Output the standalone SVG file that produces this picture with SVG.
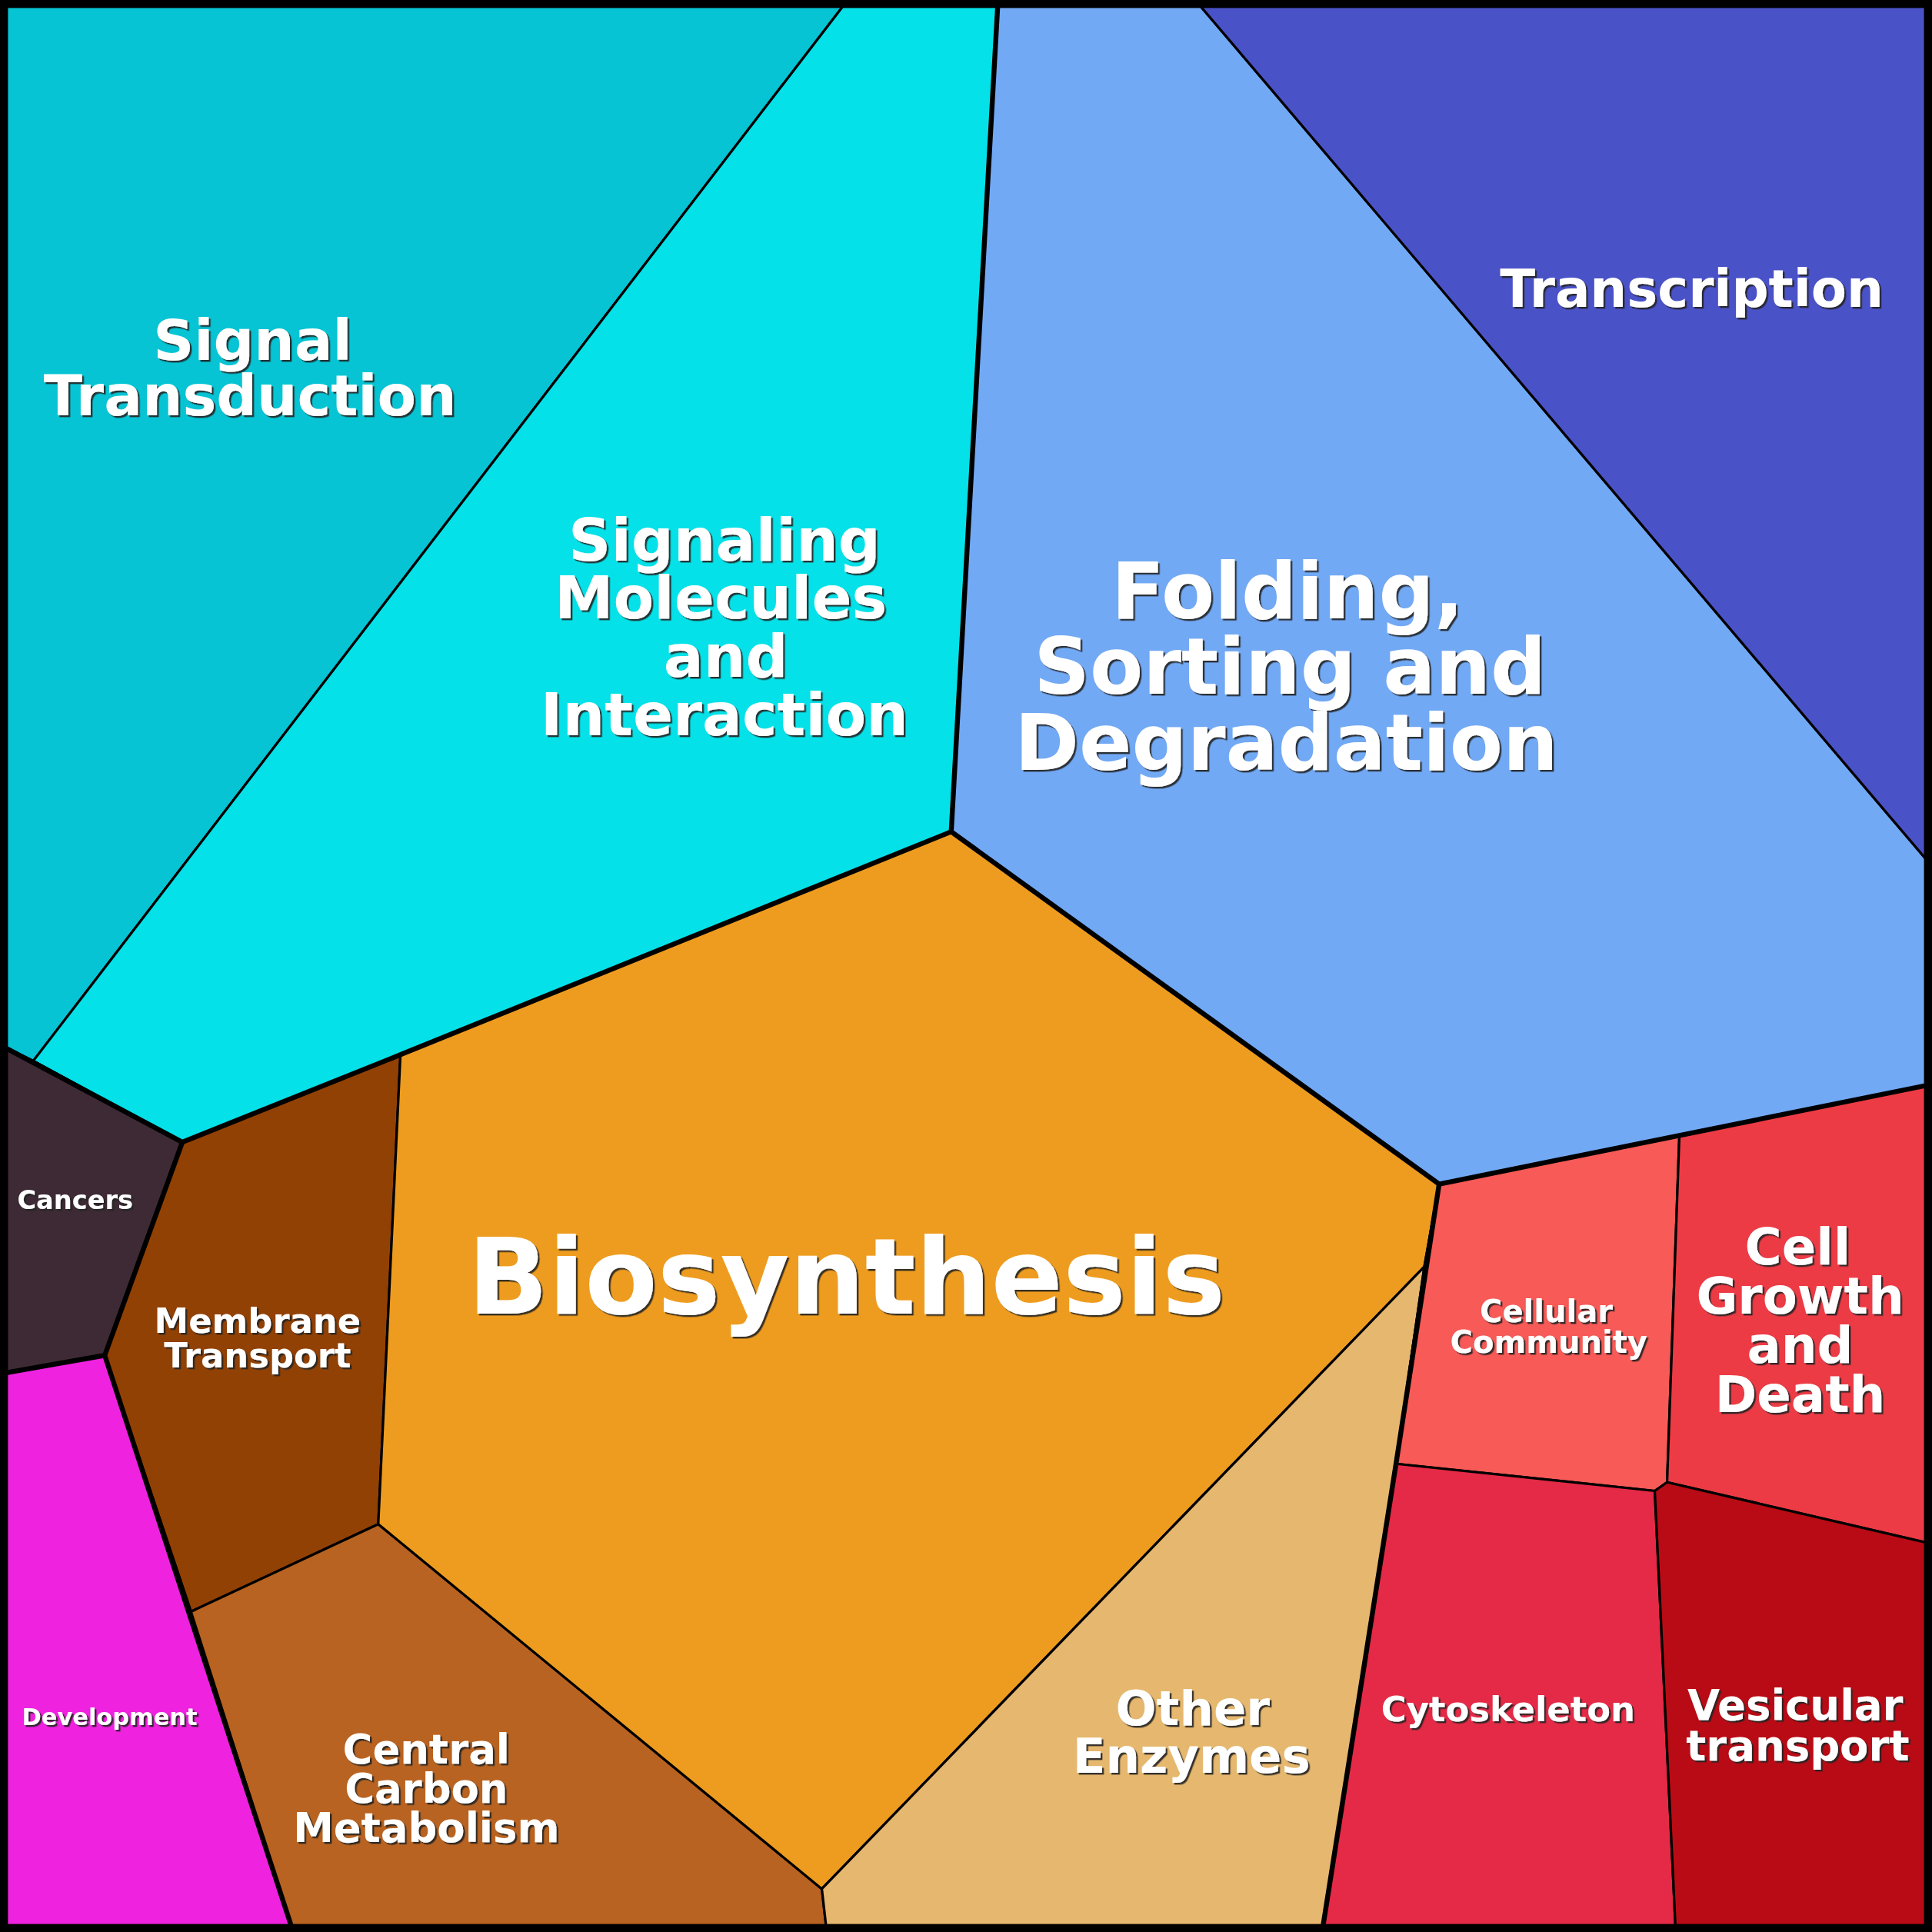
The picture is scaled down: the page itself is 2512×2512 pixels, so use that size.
<svg xmlns="http://www.w3.org/2000/svg" width="2512" height="2512" viewBox="0 0 2512 2512">
<style>
.c{stroke:#000;stroke-width:2;stroke-linejoin:round}
.t{fill:none;stroke:#000;stroke-width:4;stroke-linejoin:round}
text{font-family:"DejaVu Sans",sans-serif;font-weight:bold;text-anchor:middle;fill:#fff;filter:url(#sh)}
</style>
<defs>
<filter id="sh" x="-10%" y="-20%" width="120%" height="140%"><feDropShadow dx="1.5" dy="1.5" stdDeviation="0.4" flood-color="#222" flood-opacity="0.9"/></filter>
</defs>
<g transform="scale(1.60204)">
<g id="signal-transduction"><polygon class="c" fill="#06C4D4" points="0,0 688,0 27,861 0,848"/></g>
<g id="signaling-molecules"><polygon class="c" fill="#05E1E8" points="688,0 810,0 772,675 325,856 148,927 27,861"/></g>
<g id="folding"><polygon class="c" fill="#72A9F4" points="810,0 970,0 1568,703 1568,880 1363,921 1168,961 772,675"/></g>
<g id="transcription"><polygon class="c" fill="#4A52C8" points="970,0 1568,0 1568,703"/></g>
<g id="cancers"><polygon class="c" fill="#3D2A34" points="0,848 27,861 148,927 85,1100 0,1115"/></g>
<g id="membrane"><polygon class="c" fill="#924104" points="148,927 325,856 307,1237 155,1308 85,1100"/></g>
<g id="development"><polygon class="c" fill="#EF22DF" points="0,1115 85,1100 155,1308 238,1568 0,1568"/></g>
<g id="central-carbon"><polygon class="c" fill="#B86321" points="155,1308 307,1237 667,1533 671,1568 238,1568"/></g>
<g id="biosynthesis"><polygon class="c" fill="#EE9C1F" points="325,856 772,675 1168,961 1156,1028 667,1533 307,1237"/></g>
<g id="other-enzymes"><polygon class="c" fill="#E6B76E" points="1156,1028 1133,1188 1073,1568 671,1568 667,1533"/></g>
<g id="cellular-community"><polygon class="c" fill="#F75A57" points="1168,961 1363,921 1353,1203 1343,1210 1133,1188 1156,1028"/></g>
<g id="cell-growth"><polygon class="c" fill="#EC3B45" points="1363,921 1568,880 1568,1253 1353,1203"/></g>
<g id="cytoskeleton"><polygon class="c" fill="#E42A46" points="1133,1188 1343,1210 1360,1568 1073,1568"/></g>
<g id="vesicular"><polygon class="c" fill="#B90B15" points="1343,1210 1353,1203 1568,1253 1568,1568 1360,1568"/></g>
<g id="connectors">
<path class="t" d="M0,848 L148,927 L325,856 L772,675 L1168,961 L1568,880"/>
<path class="t" d="M148,927 L85,1100 L0,1115 M85,1100 L238,1568 M772,675 L810,0 M1168,961 L1133,1188 L1073,1568"/>
<rect x="3" y="3" width="1562" height="1562" fill="none" stroke="#000" stroke-width="7"/>
</g>
<g id="labels">
<text x="205" y="292" font-size="46">Signal</text>
<text x="203" y="337" font-size="46">Transduction</text>
<text x="588" y="455" font-size="48">Signaling</text>
<text x="585" y="502" font-size="48">Molecules</text>
<text x="589" y="549" font-size="48">and</text>
<text x="588" y="597" font-size="48">Interaction</text>
<text x="1045" y="502" font-size="63">Folding,</text>
<text x="1047" y="563" font-size="63">Sorting and</text>
<text x="1044" y="625" font-size="63">Degradation</text>
<text x="1373" y="249" font-size="42">Transcription</text>
<text x="687" y="1066" font-size="86">Biosynthesis</text>
<text x="61" y="981" font-size="21">Cancers</text>
<text x="209" y="1082" font-size="28">Membrane</text>
<text x="209" y="1110" font-size="28">Transport</text>
<text x="89" y="1400" font-size="19">Development</text>
<text x="346" y="1431" font-size="33">Central</text>
<text x="346" y="1463" font-size="33">Carbon</text>
<text x="346" y="1495" font-size="33">Metabolism</text>
<text x="968" y="1400" font-size="39">Other</text>
<text x="967" y="1439" font-size="39">Enzymes</text>
<text x="1255" y="1073" font-size="25">Cellular</text>
<text x="1257" y="1098" font-size="25">Community</text>
<text x="1459" y="1026" font-size="41">Cell</text>
<text x="1461" y="1066" font-size="41">Growth</text>
<text x="1461" y="1106" font-size="41">and</text>
<text x="1461" y="1146" font-size="41">Death</text>
<text x="1224" y="1397" font-size="28">Cytoskeleton</text>
<text x="1457" y="1396" font-size="34">Vesicular</text>
<text x="1459" y="1429" font-size="34">transport</text>
</g>
</g>
</svg>
